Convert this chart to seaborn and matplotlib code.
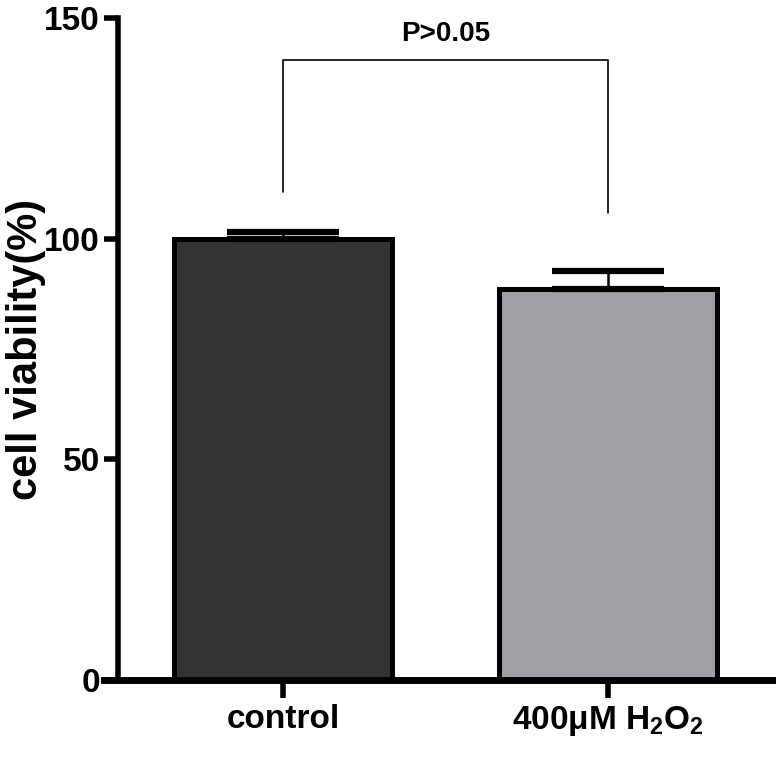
import matplotlib
matplotlib.use("Agg")
import matplotlib.pyplot as plt
import seaborn as sns
from matplotlib import font_manager

# data
GRUPLAR = ["control", "400μM H$_2$O$_2$"]
ORTALAMA = [100.0, 88.6]
HATA = [1.5, 4.0]
RENKLER = ["#333333", "#a0a0a4"]
P_METNI = "P>0.05"
Y_TICKS = [0, 50, 100, 150]

sns.set_theme(style="ticks", rc={"axes.edgecolor": "black", "xtick.color": "black",
                                 "ytick.color": "black", "text.color": "black",
                                 "axes.labelcolor": "black"})
adlar = {f.name for f in font_manager.fontManager.ttflist}
DAR = "Liberation Sans Narrow" if "Liberation Sans Narrow" in adlar else "Liberation Sans"
plt.rcParams["font.family"] = [DAR, "DejaVu Sans"]
plt.rcParams["mathtext.fontset"] = "custom"
plt.rcParams["mathtext.rm"] = f"{DAR}:bold"
plt.rcParams["mathtext.default"] = "rm"

fig = plt.figure(figsize=(7.76, 7.59), dpi=100)
ax = fig.add_axes([0.152, 0.104, 0.848, 0.872])

sns.barplot(x=GRUPLAR, y=ORTALAMA, hue=GRUPLAR, palette=RENKLER, legend=False,
            width=0.67, edgecolor="black", linewidth=3.6, errorbar=None,
            saturation=1, ax=ax)
ax.errorbar(range(len(GRUPLAR)), ORTALAMA, yerr=[[0] * len(HATA), HATA],
            fmt="none", ecolor="black", elinewidth=1.8, capsize=40,
            capthick=4.5, zorder=1)

# significance bracket
ax.plot([0, 0, 1, 1], [110.6, 140.5, 140.5, 105.8], color="black", lw=1.2,
        clip_on=False)
ax.text(0.5, 143.5, P_METNI, ha="center", va="bottom", fontsize=20,
        fontweight="bold")

ax.set_xlim(-0.508, 1.517)
ax.set_ylim(0, 150)
ax.set_yticks(Y_TICKS)
ax.set_yticklabels([str(t) for t in Y_TICKS], fontsize=24, fontweight="bold")
for lab in ax.get_xticklabels():
    lab.set_fontsize(24)
    lab.set_fontweight("bold")
ax.tick_params(axis="y", length=10, width=4, pad=3)
ax.tick_params(axis="x", length=13, width=4, pad=4)
ax.set_xlabel("")
fig.text(26 / 776, 0.54, "cell viability(%)", rotation=90, ha="center",
         va="center", fontsize=30, fontweight="bold",
         family=["Liberation Sans", "DejaVu Sans"])
sns.despine(ax=ax)
ax.spines["left"].set_linewidth(4)
ax.spines["bottom"].set_linewidth(5)
ax.spines["bottom"].set_bounds(-0.55, 1.517)

fig.savefig("out.png", dpi=100)
